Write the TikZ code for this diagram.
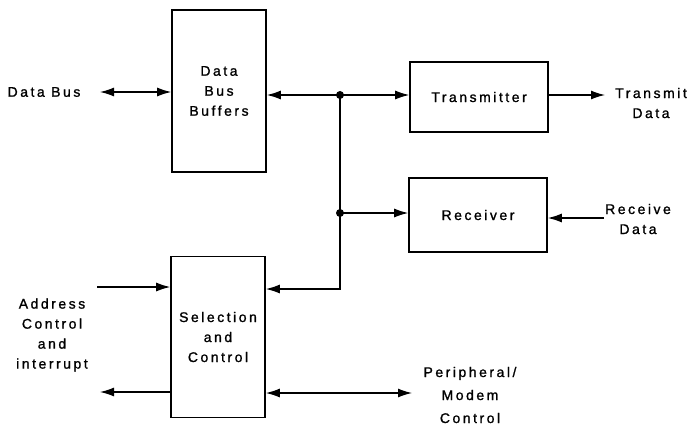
\documentclass[tikz,border=0pt]{standalone}
\usepackage{fontspec}
\newfontfamily\diagfont{Liberation Sans}[LetterSpace=18, FakeBold=1.2]
\usetikzlibrary{arrows.meta}
\tikzset{
	blk/.style={draw, line width=1.6pt, align=center, inner sep=0pt},
	lbl/.style={align=center, inner sep=0pt},
	conn/.style={line width=1.3pt, -{Latex[length=14pt,width=9pt]}},
	dconn/.style={line width=1.3pt, {Latex[length=14pt,width=9pt]}-{Latex[length=14pt,width=9pt]}},
}

\begin{document}
\begin{tikzpicture}[x=1pt, y=-1pt, font=\diagfont\fontsize{14}{20}\selectfont]
\useasboundingbox (0,0) rectangle (692,425);

% blocks
\node[blk, minimum width=94pt, minimum height=162pt] (buf) at (219,91) {Data\\Bus\\Buffers};
\node[blk, minimum width=138pt, minimum height=70pt] (tx) at (479,97) {Transmitter};
\node[blk, minimum width=138pt, minimum height=74pt] (rx) at (478,215) {Receiver};
\node[blk, minimum width=94pt, minimum height=161pt] (sel) at (218,337) {Selection\\and\\Control};

% labels
\node[lbl] (db) at (44,92) {Data Bus};
\node[lbl] (td) at (651,103) {Transmit\\Data};
\node[lbl] (rd) at (638,219) {Receive\\Data};
\node[lbl] (aci) at (52,335) {Address\\Control\\and\\interrupt};
\node[lbl, font=\diagfont\fontsize{14}{23}\selectfont] (pmc) at (470,395) {Peripheral/\\Modem\\Control};

% junctions and free ends
\coordinate (j1) at (340,95);
\coordinate (j2) at (340,213);
\coordinate (c1) at (340,289);
\coordinate (dbend) at (100,92);
\coordinate (txo) at (605,95);
\coordinate (rxi) at (604,218);
\coordinate (ain) at (97,287);
\coordinate (aout) at (100,392);
\coordinate (pm) at (412,393);

\fill (j1) circle (4pt);
\fill (j2) circle (4pt);

% connectors
\draw[dconn] (dbend) -- (dbend -| buf.west);
\draw[conn] (j1) -- (j1 -| buf.east);
\draw[conn] (j1) -- (j1 -| tx.west);
\draw[conn] (j2) -- (j2 -| rx.west);
\draw[conn] (j1) -- (c1) -- (c1 -| sel.east);
\draw[conn] (txo -| tx.east) -- (txo);
\draw[conn] (rxi) -- (rxi -| rx.east);
\draw[conn] (ain) -- (ain -| sel.west);
\draw[conn] (aout -| sel.west) -- (aout);
\draw[dconn] (pm) -- (pm -| sel.east);
\end{tikzpicture}
\end{document}
